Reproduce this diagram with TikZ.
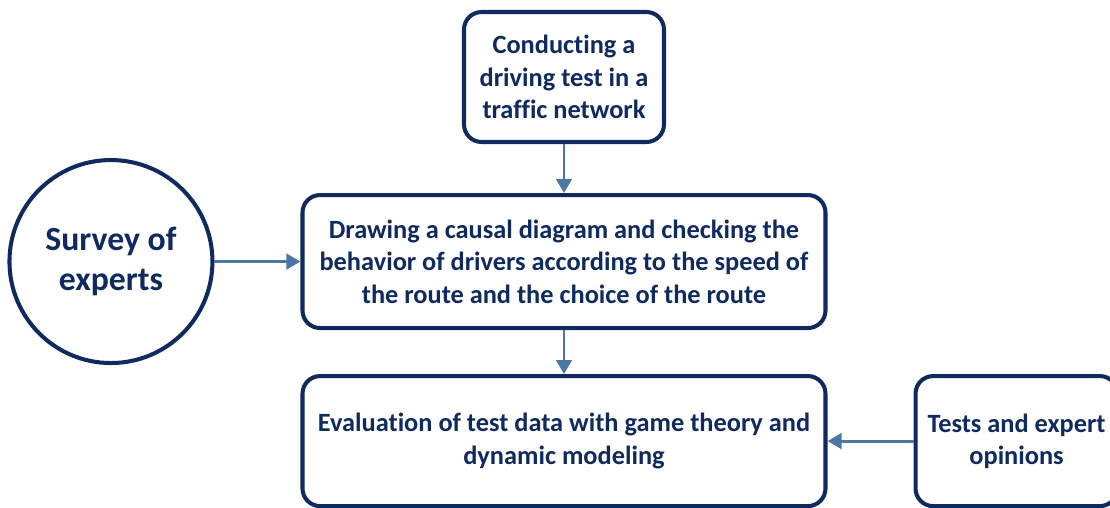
\documentclass[tikz,border=0pt]{standalone}
\usepackage{fontspec}
\setmainfont[Ligatures=NoCommon]{Carlito}
\usepackage{xcolor}
\usetikzlibrary{positioning,arrows.meta}
\definecolor{navy}{HTML}{0F2A5F}
\definecolor{arrowblue}{HTML}{4A77A3}

\begin{document}
\begin{tikzpicture}[
    font=\fontsize{7.5pt}{9.2pt}\selectfont\bfseries,
    box/.style={draw=navy, line width=1.15pt, rounded corners=5pt, align=center, text=navy, fill=white, minimum height=1.30cm},
    arr/.style={-{Triangle[length=4pt, width=4.4pt]}, draw=arrowblue, line width=0.85pt},
]
\useasboundingbox (0,0) rectangle (11.10,-5.08);

\node[box, minimum width=2.0cm] (conduct) at (5.64,-0.77) {Conducting a\\driving test in a\\traffic network};
\node[box, minimum width=5.23cm, minimum height=1.33cm, below=0.49cm of conduct] (causal) {Drawing a causal diagram and checking the\\behavior of drivers according to the speed of\\the route and the choice of the route};
\node[box, minimum width=5.23cm, below=0.44cm of causal] (evaluate) {Evaluation of test data with game theory and\\dynamic modeling};
\node[draw=navy, line width=1.15pt, circle, minimum size=2.03cm, align=center, text=navy, font=\fontsize{9.6pt}{11.4pt}\selectfont\bfseries, left=0.86cm of causal] (survey) {Survey of\\experts};
\node[box, minimum width=2.02cm, right=0.86cm of evaluate] (tests) {Tests and expert\\opinions};

\draw[arr] (conduct) -- (causal);
\draw[arr] (survey) -- (causal);
\draw[arr] (causal) -- (evaluate);
\draw[arr] (tests) -- (evaluate);
\end{tikzpicture}
\end{document}
